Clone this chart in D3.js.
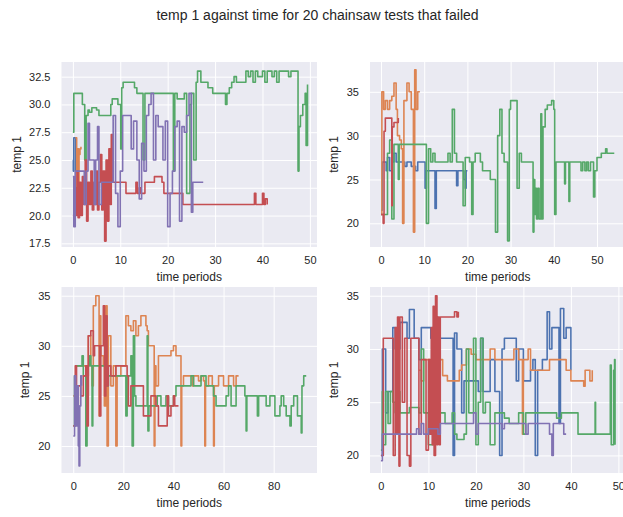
<!DOCTYPE html>
<html>
<head>
<meta charset="utf-8">
<style>
    body { margin: 0; background: #fff; }
    svg { display: block; font-family: 'Liberation Sans', Arial, sans-serif; }
</style>
</head>
<body>
<svg width="623" height="517"></svg>
<script src="https://d3js.org/d3.v7.min.js"></script>
<script>
    // seaborn "deep" colours, in draw order
    let palette = ["#4c72b0", "#dd8452", "#55a868", "#c44e52", "#8172b3"]

    // ---- data: [time, temp 1] ----
    // panel 1 (top left)
    let p1Blue = [[0,25],[0.1,24],[0.2,27],[0.5,27],[0.6,23.5],[0.8,24],[1,25]]
    let p1Orange = [[0.5,27],[0.8,22],[1,26],[1.2,20],[1.3,25.5],[1.5,26],[1.7,26.2]]
    let p1Green = [[0,27.5],[0.2,31],[1.8,31],[2,30],[2.3,30],[2.5,25],[2.8,29],[3.2,29.5],[3.5,29.3],[4,29.7],[5,29.5],[5.5,29],[7.5,29],[8,30],[8.3,30.5],[9,30.5],[9.5,30],[10,30],[10.1,26],[10.3,31.5],[10.6,32],[12.5,32],[13,31.5],[13.5,31],[14.5,31],[14.8,25],[15.2,31],[16,31],[21,31],[21.2,24],[21.5,31],[22,30.5],[23.5,31],[24,22],[24.5,22],[24.7,30],[25,31],[25.5,25],[26,32],[26.3,33],[27,32],[28,32],[28.5,31.5],[29,31.5],[29.5,31],[32,31],[32.2,30],[32.5,31],[33,31.5],[33.5,32],[34,32.5],[34.5,32],[36,32],[36.5,33],[37,32.5],[37.5,33],[38,32],[38.5,33],[39,32.5],[40,33],[40.5,32],[41,33],[42,32.5],[42.5,33],[43,32],[43.5,33],[45,33],[45.5,32.5],[46,33],[47.3,33],[47.5,24],[47.7,28],[48,29],[48.5,30],[49,31],[49.2,26.3],[49.5,31.8]]
    let p1Red = [[0,20],[0.3,22.5],[0.6,20],[0.9,24],[1.1,19.8],[1.4,23],[1.7,20],[2,23.5],[2.3,21],[2.6,25],[2.9,19.5],[3.2,23],[3.5,21],[3.8,24],[4.1,20.5],[4.4,23],[4.7,21],[5,24],[5.2,20.5],[5.5,23],[5.8,25.5],[6.1,20.5],[6.4,24],[6.7,17.7],[7,25],[7.3,19.5],[7.6,26],[7.9,21],[8.1,27.3],[8.4,23],[11,23],[11.2,22],[13,22],[13.3,23],[13.6,22],[14,22.5],[14.3,22],[15,22],[15.2,23],[17,23],[17.2,23.5],[18.5,23.5],[18.8,23],[19.2,22],[23,22],[23.2,21],[38,21],[38.3,22],[38.6,21],[39.5,21],[40,22],[40.3,21],[40.6,21.5],[41,21]]
    let p1Purple = [[0,23.5],[0.2,19],[0.5,24],[2,24],[2.4,21],[2.8,24],[3.2,28.3],[3.5,25],[4,25],[4.5,21],[4.8,25],[5.2,28],[5.5,21],[6,23],[8,23],[8.5,29],[9,22],[9.5,19],[10,24],[10.5,29],[12,29],[12.3,26],[12.8,28.5],[13.5,25],[14,21.5],[14.5,26.5],[15,24],[15.5,29],[16,30],[16.5,31],[17,25],[17.5,29],[18,28],[18.5,28],[19,25],[19.5,28.5],[20,19],[20.5,22],[21,24],[21.5,28],[22,28.5],[22.5,19.5],[23,28],[23.5,27.5],[24,29],[24.5,31],[25,20.3],[25.3,23],[27.5,23]]

    // panel 2 (top right)
    let p2Blue = [[0,21.5],[0.3,27],[1,27],[1.2,26],[1.5,27.5],[2,26],[2.5,27],[3,28],[3.5,27],[5,27],[5.5,26.5],[6,27],[7,26.5],[8,26],[8.5,27],[10,27],[10.2,24],[10.5,26],[12.3,26],[12.5,21.7],[12.8,26],[17.3,26],[17.5,24.3],[17.8,26],[19,26],[19.2,25],[19.5,24],[19.7,26],[20,26]]
    let p2Orange = [[0,21],[0.2,35],[0.6,33],[1,34],[1.5,33],[2,34],[2.5,34.5],[3,36],[3.5,33],[3.8,30],[4.3,29.5],[4.7,28.5],[5,20],[5.3,34],[6,36],[6.5,35],[7,33],[7.5,19],[7.8,37.5],[8.1,33],[8.5,35],[9,35]]
    let p2Green = [[0,21],[1.5,28],[2,29.5],[2.5,20.5],[3,29],[3.8,29],[4,25],[4.2,29],[10,29],[10.5,20],[11,28.5],[11.5,27],[12,28],[12.5,27],[15,27],[15.5,28],[16,27],[16.5,33],[17,28],[17.5,27],[18.5,27],[19,22],[19.5,27.5],[20.5,27],[21,21],[21.3,27],[21.8,28],[22.5,28],[23,27],[23.5,26],[25,26],[25.3,25],[26.3,25],[26.5,19],[27,30],[27.5,33],[28,28],[28.5,27],[29,27],[29.3,18],[29.7,33],[30,34],[31.3,34],[31.5,24],[32,28],[32.5,27],[35,27],[35.2,19],[35.4,25],[35.6,21],[35.8,24],[36,20.5],[36.3,24],[36.6,20.5],[37,32.5],[37.2,20.5],[37.5,31],[38,33],[38.5,33.5],[39.5,34],[40,33],[40.2,21],[40.5,27],[42.3,27],[42.5,24.5],[42.7,27],[43.3,27],[43.5,22.5],[43.7,27],[46,27],[46.3,26],[46.7,27],[47.2,26],[47.6,27],[48,26],[48.5,27],[49,27],[49.2,23],[49.5,26],[50,27.5],[50.5,27.5],[51,28],[52,28.5],[52.3,28],[54,28]]
    let p2Red = [[0,21],[0.5,20],[0.7,30.5],[1,32],[2.3,32],[2.5,22],[2.6,31],[3,31.5],[4,32]]

    // panel 3 (bottom left)
    let p3Orange = [[0,25],[1,28],[5,28],[5.5,25],[6,31],[7,28],[7.5,26],[8,34],[9,35],[10,35],[10.3,23],[10.6,33],[11,29],[12,28],[12.4,24],[13,34],[13.5,20],[14,31],[15,26],[16,28],[17,20],[17.5,27],[19,28],[20.5,28],[21,33],[22,32],[23,31.5],[24,32.5],[25,31],[26,32],[27,33],[28.5,33],[29,32],[29.5,31.5],[30,30],[31.5,30],[32.3,20],[32.6,28],[33,26],[34,29],[38,29],[39,29.5],[40,30],[41,29],[42,29],[42.8,29],[43,20],[43.3,26],[44,27],[47,27],[47.5,26],[48,27],[50,26.5],[51,27],[52,26.5],[52.5,20],[52.8,26],[54,27],[55.5,26],[56,20],[56.3,26],[58,27],[60,26],[62,27],[64,26],[65,27],[66,27]]
    let p3Green = [[0,22],[0.5,27],[1,28],[3,28],[3.5,29],[4,27],[5,20],[5.5,27],[6,28],[6.5,29],[7,28],[7.5,22],[7.8,28],[12,28],[13,26],[14,27],[20.5,27],[21,23],[21.5,27],[22.5,27],[23,29],[23.5,20],[24,31],[24.5,25],[25,24],[29,24],[29.5,31],[29.8,21.5],[30.2,24],[33,24],[33.5,25],[35,24],[37,25],[38,24],[40,25],[41,26],[46,26],[47,27],[48,26],[50,26],[51,27],[53,26],[55,26],[56,25],[57,24],[60,24],[61,25],[62,26],[63,24],[65,26],[68,26],[68.5,25],[69,21.5],[69.3,25],[73,25],[73.5,23],[74,25],[76,25],[77,24],[78,24],[78.5,25],[80,25],[80.5,23],[82,23],[82.5,24],[83,25],[84,24],[85,23],[86,23],[86.5,22],[87,24],[88,25],[89,25],[89.5,23],[90.5,23],[91,21.3],[91.3,26],[92,27],[93,27]]
    let p3Red = [[0,22],[0.8,28],[1.3,23],[2,26],[3,25],[4,27],[5,28],[5.5,22],[6,31],[7,31.5],[8,29],[8.5,30],[10,30],[10.5,23],[11,30],[12,34],[12.5,25],[13,33],[13.5,26],[14,28],[15,27],[16,27],[17,28],[21,28],[21.5,27],[22,24],[23,26],[27,26],[28,23],[30,23],[31,25],[32,25],[33,24],[34,22],[37,22],[37.5,25],[38,23],[39,24],[40,25],[40.5,24],[42,24]]
    let p3Purple = [[0,21],[0.5,27],[1,22],[1.5,26],[2,20],[2.3,18],[2.6,24],[3,27],[3.3,26]]

    // panel 4 (bottom right)
    let p4Blue = [[0,20],[0.3,30],[1,24],[1.5,26],[2.5,32],[3,30],[4,32.5],[5,32.5],[5.5,31],[6,33.7],[7,31],[8,29],[8.5,32],[10,32],[10.5,31],[11,24],[12,31],[15,31],[15.2,20],[15.5,31.5],[16,30],[17,24],[17.5,27],[20,27],[20.5,26],[21,31],[21.5,26],[22.5,26],[23,29],[24,26],[25,20],[25.5,30],[26,31],[28,31],[28.5,27],[29,30],[30,27],[31,27],[31.5,28],[32,29],[32.5,20],[33,28],[34,29],[35,33.5],[35.5,30],[36,32],[37,32],[37.5,23],[37.8,33.8],[38.5,31],[39,32],[40,28]]
    let p4Orange = [[8,28],[8.5,27],[9,29],[12,29],[13,27.5],[14,27],[16,27],[16.5,28],[17,28.5],[18,30],[19,29.5],[20,29],[22.5,29],[23,30],[24,29],[27.5,29],[28,30],[29,29],[29.8,22],[30,29],[31,30],[31.5,28],[35,28],[35.5,29],[38,29],[39,28],[40,27],[42.5,27],[42.7,26.5],[43,28],[44,27],[44.5,28]]
    let p4Green = [[0,20.5],[0.3,26],[0.5,21],[1,26],[1.5,23],[2,26],[2.5,25],[3,24],[3.5,26],[4,24],[5,24],[6,24.5],[7,24.5],[8,24],[8.5,30],[9,24],[10,21],[11,22],[12,24],[13,24],[13.5,23],[15,24],[15.5,22],[16,21.5],[17,21.5],[17.5,22],[18,30],[18.5,24],[19.5,31],[20,21],[20.5,25],[21,31],[21.5,24],[22,25],[23,21],[24,24],[26,23.5],[27,23],[28,23],[29,24],[30,22],[30.5,24],[36,24],[37,23.5],[38,24],[41,24],[41.5,22],[45,22],[45.1,25],[45.2,22],[48,22],[48.3,28.5],[48.5,21],[49,28],[49.2,29],[49.3,21]]
    let p4Red = [[0,20],[0.5,31],[2.5,31],[2.6,20],[3,32],[3.3,22],[3.5,33],[3.8,19],[4,33],[4.5,25],[5,31],[5.5,20],[6,19],[6.3,31],[7.5,31],[8,22],[8.5,29],[9.5,20.5],[10,29],[10.3,22],[10.6,32],[10.8,21],[11,34],[11.2,20],[11.5,35],[11.8,21],[12,33],[12.3,21],[12.5,33],[15,33],[15.5,33.5],[16,33],[16.3,33.5]]
    let p4Purple = [[0,19.5],[0.3,22],[7,22],[7.5,22.5],[8,22],[8.5,23],[9,22],[10,22.5],[12,22],[12.5,23],[19,23],[19.5,24],[20,22],[20.5,23],[25,23],[25.5,22.5],[26,23],[30,23],[30.5,22],[31,23],[35,23],[35.5,22],[36,20],[36.3,23],[38,23],[38.5,22],[39,22]]

    // tick labels
    let xTicks50 = [0, 10, 20, 30, 40, 50]
    let xTicks80 = [0, 20, 40, 60, 80]
    let yTicksP1 = [17.5, 20, 22.5, 25, 27.5, 30, 32.5]
    let yTicks5 = [20, 25, 30, 35]

    let title = "temp 1 against time for 20 chainsaw tests that failed"

    // layout of the 2x2 grid (pixels) and axis limits
    let panels = [
        { box: [61.5, 317, 62, 247], xd: [-2.4, 51.5], yd: [17.17, 33.82], xt: xTicks50, yt: yTicksP1, fmt: d3.format(".1f"),
          series: [[p1Blue, 0], [p1Orange, 1], [p1Green, 2], [p1Red, 3], [p1Purple, 4]], lab: 40.5 },
        { box: [370, 625.5, 62, 247], xd: [-2.55, 56.6], yd: [17.3, 38.4], xt: xTicks50, yt: yTicks5, fmt: d3.format("d"),
          series: [[p2Blue, 0], [p2Orange, 1], [p2Green, 2], [p2Red, 3]], lab: 32.5 },
        { box: [61.5, 317, 287, 473], xd: [-4.7, 97.3], yd: [17.3, 35.87], xt: xTicks80, yt: yTicks5, fmt: d3.format("d"),
          series: [[p3Orange, 1], [p3Green, 2], [p3Red, 3], [p3Purple, 4]], lab: 32.5 },
        { box: [370, 625.5, 287, 473], xd: [-2.3, 51.5], yd: [18.35, 35.82], xt: xTicks50, yt: yTicks5, fmt: d3.format("d"),
          series: [[p4Blue, 0], [p4Orange, 1], [p4Green, 2], [p4Red, 3], [p4Purple, 4]], lab: 32.5 }
    ]

    let svg = d3.select("svg")
    let textColor = "#262626"

    svg.append("text")
        .attr("x", 317.5)
        .attr("y", 20)
        .attr("text-anchor", "middle")
        .style("font-size", "14px")
        .style("fill", textColor)
        .text(title)

    panels.forEach((p, i) => {
        let [x0, x1, y0, y1] = p.box
        let x = d3.scaleLinear().domain(p.xd).range([x0, x1])
        let y = d3.scaleLinear().domain(p.yd).range([y1, y0])

        let g = svg.append("g")

        g.append("clipPath").attr("id", "clip" + i)
            .append("rect")
            .attr("x", x0).attr("y", y0)
            .attr("width", x1 - x0).attr("height", y1 - y0)

        g.append("rect")
            .attr("x", x0).attr("y", y0)
            .attr("width", x1 - x0).attr("height", y1 - y0)
            .style("fill", "#eaeaf2")

        // grid, drawn with the axes so they sit at the ticks
        let xAxis = d3.axisBottom(x).tickValues(p.xt).tickSize(-(y1 - y0)).tickPadding(9.5).tickFormat(d3.format("d"))
        let yAxis = d3.axisLeft(y).tickValues(p.yt).tickSize(-(x1 - x0)).tickPadding(11).tickFormat(p.fmt)

        let gx = g.append("g").attr("transform", `translate(0,${y1})`).call(xAxis)
        let gy = g.append("g").attr("transform", `translate(${x0},0)`).call(yAxis)

        ;[gx, gy].forEach(a => {
            a.select(".domain").remove()
            a.selectAll(".tick line").style("stroke", "#fff").style("stroke-width", 1)
            a.selectAll(".tick text")
                .style("font-size", "11px")
                .style("font-family", "'Liberation Sans', Arial, sans-serif")
                .style("fill", textColor)
        })

        // samples hold their value until the next one
        let line = d3.line().curve(d3.curveStepAfter).x(d => x(d[0])).y(d => y(d[1]))

        g.append("g").attr("clip-path", `url(#clip${i})`)
            .selectAll("path")
            .data(p.series)
            .join("path")
            .attr("d", d => line(d[0]))
            .style("fill", "none")
            .style("stroke", d => palette[d[1]])
            .style("stroke-width", 1.6)
            .style("stroke-linejoin", "round")

        g.append("text")
            .attr("x", (x0 + x1) / 2)
            .attr("y", y1 + 34)
            .attr("text-anchor", "middle")
            .style("font-size", "12px")
            .style("fill", textColor)
            .text("time periods")

        g.append("text")
            .attr("transform", `translate(${x0 - p.lab},${(y0 + y1) / 2}) rotate(-90)`)
            .attr("text-anchor", "middle")
            .style("font-size", "12px")
            .style("fill", textColor)
            .text("temp 1")
    })
</script>
</body>
</html>
